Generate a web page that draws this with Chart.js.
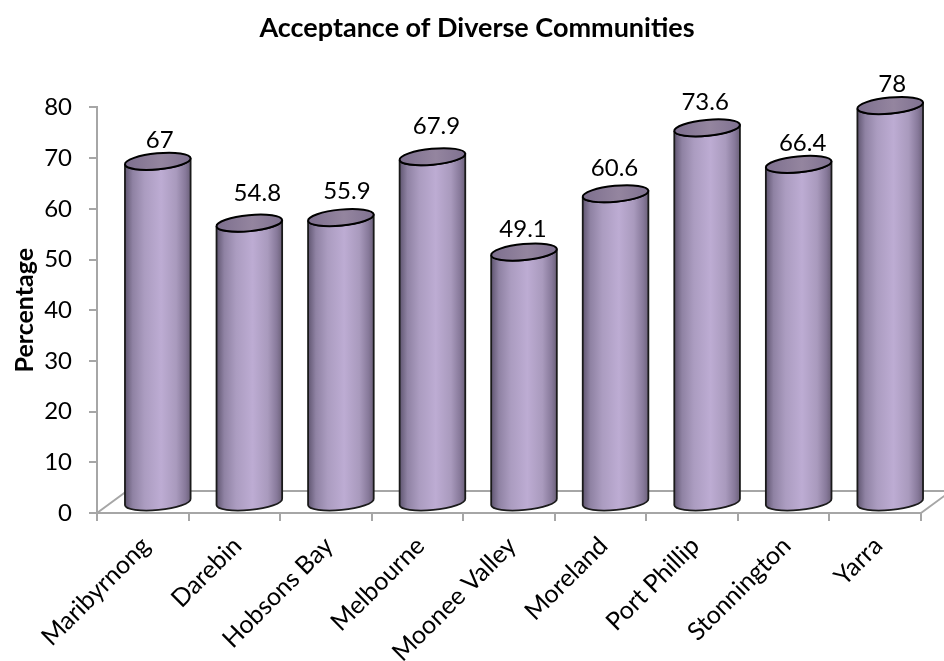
<!DOCTYPE html>
<html>
<head>
<meta charset="utf-8">
<title>Acceptance of Diverse Communities</title>
<script src="https://cdn.jsdelivr.net/npm/chart.js@4"></script>
<style>
  html, body { margin: 0; padding: 0; background: #fff; }
  #wrap { width: 944px; height: 661px; overflow: hidden; }
</style>
</head>
<body>
<div id="wrap"><canvas id="chart" width="944" height="661"></canvas></div>
<script>
// Values
const communities = ["Maribyrnong", "Darebin", "Hobsons Bay", "Melbourne", "Moonee Valley", "Moreland", "Port Phillip", "Stonnington", "Yarra"];
const percentages = [67, 54.8, 55.9, 67.9, 49.1, 60.6, 73.6, 66.4, 78];
const yTicks = [0, 10, 20, 30, 40, 50, 60, 70, 80];

const fontName = "Lato, 'Open Sans', sans-serif";
const axisGrey = "#a6a6a6";
const depth = { x: 30, y: -22 }; // floor of the fake 3D box
const barShift = { x: 15, y: -12 }; // bars stand in the middle of the floor
const tilt = -5.5 * Math.PI / 180;
const labelNudge = [[2, -21], [8, -30], [6, -26], [4, -30], [-1, -23], [-1, -25], [-2, -26], [4, -21], [2, -21]];

// floor behind the bars
const floorPlugin = {
  id: "floor",
  beforeDatasetsDraw(chart) {
    const { ctx, chartArea: a } = chart;
    ctx.save();
    ctx.strokeStyle = axisGrey;
    ctx.lineWidth = 2;
    ctx.beginPath();
    ctx.moveTo(a.left, a.bottom);
    ctx.lineTo(a.left + depth.x, a.bottom + depth.y);
    ctx.lineTo(a.right + depth.x, a.bottom + depth.y);
    ctx.lineTo(a.right, a.bottom);
    ctx.stroke();
    ctx.restore();
  }
};

// turns each bar element into a cylinder
const cylinderPlugin = {
  id: "cylinder",
  afterDatasetsDraw(chart) {
    const { ctx } = chart;
    const bars = chart.getDatasetMeta(0).data;
    bars.forEach((bar, i) => {
      const cx = bar.x + barShift.x;
      const top = bar.y + barShift.y;
      const bottom = bar.base + barShift.y + 2;
      const rx = bar.width / 2;
      const ry = 8;

      const body = ctx.createLinearGradient(cx - rx, 0, cx + rx, 0);
      body.addColorStop(0, "#5f5570");
      body.addColorStop(0.12, "#8f82a3");
      body.addColorStop(0.3, "#ab9cc0");
      body.addColorStop(0.55, "#bdacd3");
      body.addColorStop(0.78, "#a99abd");
      body.addColorStop(0.92, "#87799a");
      body.addColorStop(1, "#6b6079");

      ctx.save();
      ctx.beginPath();
      ctx.ellipse(cx, bottom, rx, ry, tilt, 0, Math.PI);
      ctx.ellipse(cx, top, rx, ry, tilt, Math.PI, 0, true);
      ctx.closePath();
      ctx.fillStyle = body;
      ctx.fill();

      ctx.strokeStyle = "#1a1a1a";
      ctx.lineWidth = 1.8;
      ctx.stroke();

      const cap = ctx.createLinearGradient(cx - rx, 0, cx + rx, 0);
      cap.addColorStop(0, "#7d6f8e");
      cap.addColorStop(0.55, "#94859f");
      cap.addColorStop(1, "#7f7190");
      ctx.beginPath();
      ctx.ellipse(cx, top, rx, ry, tilt, 0, Math.PI * 2);
      ctx.fillStyle = cap;
      ctx.fill();
      ctx.strokeStyle = "#000";
      ctx.lineWidth = 2;
      ctx.stroke();

      // value above the bar
      ctx.fillStyle = "#000";
      ctx.font = "24px " + fontName;
      ctx.textAlign = "center";
      ctx.textBaseline = "middle";
      ctx.fillText(String(percentages[i]), cx + labelNudge[i][0], top + labelNudge[i][1]);
      ctx.restore();
    });
  }
};

new Chart(document.getElementById("chart").getContext("2d"), {
  type: "bar",
  data: {
    labels: communities,
    datasets: [
      {
        data: percentages,
        backgroundColor: "transparent",
        barPercentage: 0.72,
        categoryPercentage: 1,
      },
    ],
  },
  plugins: [floorPlugin, cylinderPlugin],
  options: {
    responsive: false,
    animation: false,
    layout: { padding: { left: 10, right: 0, top: 0, bottom: 0 } },
    plugins: {
      legend: { display: false },
      tooltip: { enabled: false },
      title: {
        display: true,
        text: "Acceptance of Diverse Communities",
        color: "#000",
        font: { family: fontName, size: 27, weight: "bold" },
        padding: { top: 12, bottom: 63 },
      },
    },
    scales: {
      x: {
        grid: { color: "transparent", tickColor: axisGrey, tickLength: 8, lineWidth: 2, drawOnChartArea: false },
        border: { color: axisGrey, width: 2 },
        ticks: { color: "#000", font: { family: fontName, size: 25 }, minRotation: 45, maxRotation: 45, padding: 10, labelOffset: 3, autoSkip: false },
        afterFit(scale) { scale.height = 148; },
      },
      y: {
        min: 0,
        max: 80,
        afterBuildTicks(scale) { scale.ticks = yTicks.map((v) => ({ value: v })); },
        grid: { color: "transparent", tickColor: axisGrey, tickLength: 8, lineWidth: 2, drawOnChartArea: false },
        border: { color: axisGrey, width: 2 },
        ticks: { color: "#000", font: { family: fontName, size: 24 }, padding: 17 },
        title: { display: true, text: "Percentage", color: "#000", font: { family: fontName, size: 25, weight: "bold" }, padding: { top: 0, bottom: 0 } },
        afterFit(scale) { scale.width = 87; },
      },
      // spare room on the right so the title stays centred on the whole picture
      spare: {
        position: "right",
        display: true,
        grid: { display: false },
        border: { display: false },
        ticks: { display: false },
        afterFit(scale) { scale.width = 23; },
      },
    },
  },
});
</script>
</body>
</html>
